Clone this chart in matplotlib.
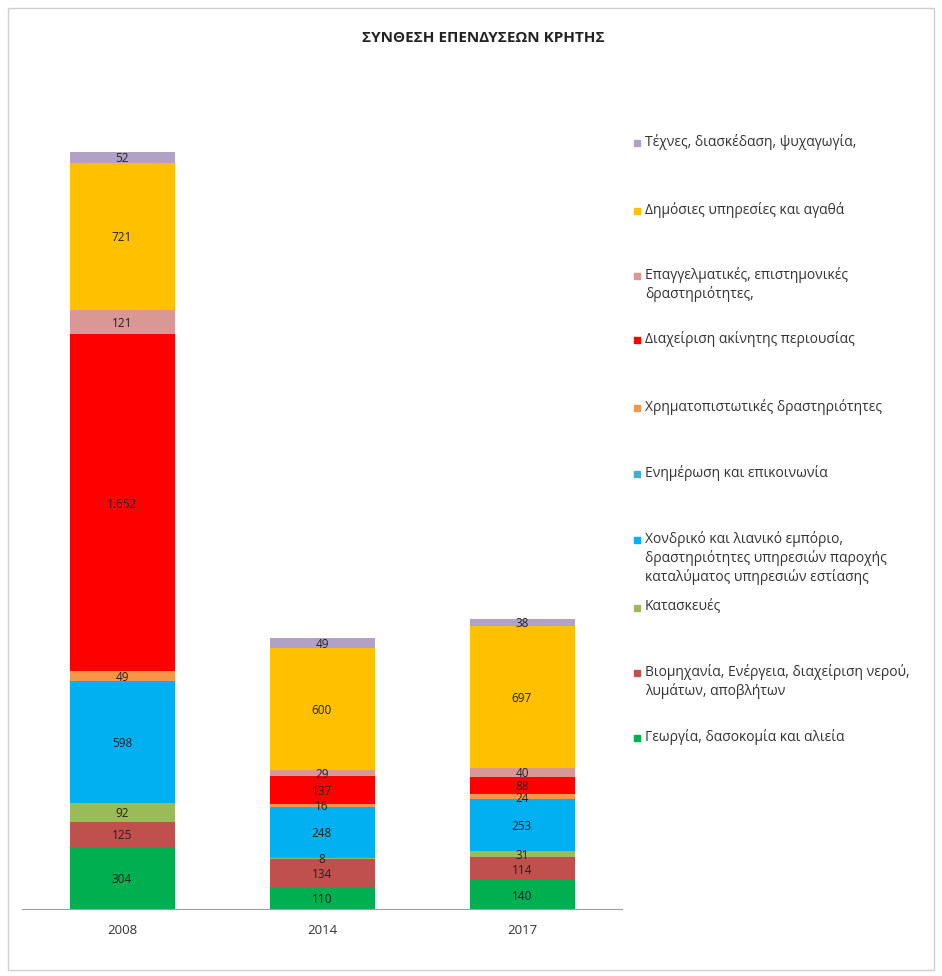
import matplotlib

matplotlib.use("Agg")

import matplotlib.pyplot as plt
import numpy as np
from matplotlib.patches import Rectangle

plt.rcParams["font.family"] = ["Open Sans", "DejaVu Sans"]

years = ["2008", "2014", "2017"]

# bottom to top stacking order
agriculture = [304, 110, 140]
industry = [125, 134, 114]
construction = [92, 8, 31]
trade = [598, 248, 253]
information = [0, 0, 0]
finance = [49, 16, 24]
real_estate = [1652, 137, 88]
professional = [121, 29, 40]
public = [721, 600, 697]
arts = [52, 49, 38]

series_names = [
    "Γεωργία, δασοκομία και αλιεία",
    "Βιομηχανία, Ενέργεια, διαχείριση νερού,\nλυμάτων, αποβλήτων",
    "Κατασκευές",
    "Χονδρικό και λιανικό εμπόριο,\nδραστηριότητες υπηρεσιών παροχής\nκαταλύματος υπηρεσιών εστίασης",
    "Ενημέρωση και επικοινωνία",
    "Χρηματοπιστωτικές δραστηριότητες",
    "Διαχείριση ακίνητης περιουσίας",
    "Επαγγελματικές, επιστημονικές\nδραστηριότητες,",
    "Δημόσιες υπηρεσίες και αγαθά",
    "Τέχνες, διασκέδαση, ψυχαγωγία,",
]
series_values = [agriculture, industry, construction, trade, information,
                 finance, real_estate, professional, public, arts]
colors = ["#00B050", "#C0504D", "#9BBB59", "#00B0F0", "#4BACC6",
          "#F79646", "#FF0000", "#D99795", "#FFC000", "#B2A1C7"]

W, H = 942, 976
fig = plt.figure(figsize=(W / 100, H / 100), dpi=100)
fig.patches.append(Rectangle((8 / W, 6 / H), (W - 16) / W, (H - 14) / H,
                             transform=fig.transFigure, fill=False,
                             edgecolor="#D0D0D0", linewidth=1))

base_y, top_y, bar_top = 909, 60, 152
ax = fig.add_axes([22 / W, (H - base_y) / H, 600 / W, (base_y - top_y) / H])

x = np.arange(len(years))
totals = np.sum(np.array(series_values), axis=0)
bottom = np.zeros(len(years))
for name, vals, col in zip(series_names, series_values, colors):
    vals = np.array(vals, dtype=float)
    ax.bar(x, vals, bottom=bottom, width=0.525, color=col, label=name)
    for xi, v, b in zip(x, vals, bottom):
        if v > 0:
            ax.text(xi, b + v / 2, f"{int(v):,}".replace(",", "."),
                    ha="center", va="center_baseline", fontsize=8.5,
                    color="#222222")
    bottom += vals

ax.set_xlim(-0.5, 2.5)
ax.set_ylim(0, totals.max() * (base_y - top_y) / (base_y - bar_top))
ax.set_xticks(x)
ax.set_xticklabels(years, fontsize=9.5, color="#333333")
ax.tick_params(axis="x", length=0, pad=11)
ax.set_yticks([])
for side in ["left", "right", "top"]:
    ax.spines[side].set_visible(False)
ax.spines["bottom"].set_color("#A0A0A0")

fig.text(483 / W, 1 - 38 / H, "ΣΥΝΘΕΣΗ ΕΠΕΝΔΥΣΕΩΝ ΚΡΗΤΗΣ", ha="center",
         va="center", fontsize=11, fontweight="bold", color="#222222")

# legend, top entry first
legend_y = [143, 211, 276, 340, 408, 474, 540, 608, 673, 738]
for ly, name, col in zip(legend_y, series_names[::-1], colors[::-1]):
    fig.patches.append(Rectangle((634 / W, 1 - (ly + 3) / H), 6 / W, 6 / H,
                                 transform=fig.transFigure, color=col))
    fig.text(645 / W, 1 - (ly - 9) / H, name, ha="left", va="top",
             fontsize=10, color="#333333", linespacing=1.25)

fig.savefig("out.png", dpi=100)
